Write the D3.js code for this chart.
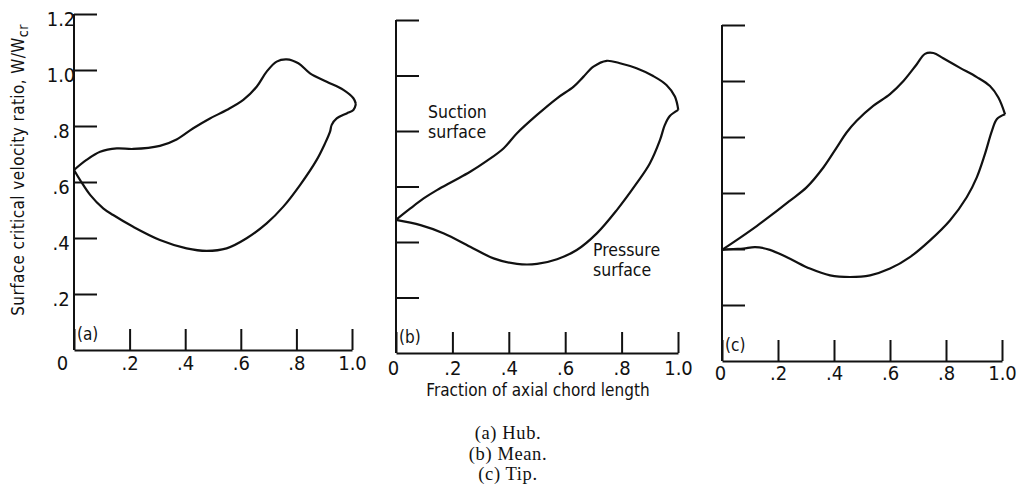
<!DOCTYPE html>
<html>
<head>
<meta charset="utf-8">
<script src="https://cdn.jsdelivr.net/npm/d3@7"></script>
<style>
  html, body { margin: 0; padding: 0; background: #fff; }
  svg { display: block; }
  .lettering { font-family: "DejaVu Sans Condensed", "DejaVu Sans", sans-serif; font-stretch: condensed; fill: #111; }
  .caption { font-family: "Liberation Serif", "DejaVu Serif", serif; fill: #111; }
</style>
</head>
<body>
<svg id="chart" width="1017" height="500"></svg>
<script>
// Axis ticks and labels
const xTickValues = [0, 0.2, 0.4, 0.6, 0.8, 1.0];
const xTickLabels = ["0", ".2", ".4", ".6", ".8", "1.0"];
const yTickValues = [0.2, 0.4, 0.6, 0.8, 1.0, 1.2];
const yTickLabels = [".2", ".4", ".6", ".8", "1.0", "1.2"];

// (a) Hub: surface critical velocity ratio vs fraction of axial chord
const hubSuctionX = [0, 0.045, 0.094, 0.154, 0.213, 0.309, 0.369, 0.429, 0.489, 0.549, 0.609, 0.657, 0.693, 0.729, 0.765, 0.807, 0.849, 0.909, 0.969, 1.005, 1.014];
const hubSuctionY = [0.643, 0.679, 0.708, 0.720, 0.718, 0.729, 0.752, 0.792, 0.827, 0.857, 0.893, 0.940, 0.994, 1.030, 1.038, 1.024, 0.988, 0.958, 0.929, 0.899, 0.879];
const hubPressureX = [0, 0.022, 0.058, 0.105, 0.141, 0.213, 0.309, 0.405, 0.477, 0.549, 0.621, 0.693, 0.753, 0.813, 0.873, 0.903, 0.921, 0.927, 0.945, 0.981, 1.005, 1.014];
const hubPressureY = [0.643, 0.607, 0.554, 0.506, 0.482, 0.440, 0.393, 0.363, 0.354, 0.363, 0.399, 0.452, 0.512, 0.589, 0.679, 0.738, 0.780, 0.804, 0.827, 0.845, 0.857, 0.879];

// (b) Mean
const meanSuctionX = [0, 0.051, 0.098, 0.145, 0.204, 0.263, 0.322, 0.382, 0.429, 0.500, 0.571, 0.630, 0.665, 0.700, 0.747, 0.794, 0.853, 0.912, 0.959, 0.989, 1.001];
const meanSuctionY = [0.480, 0.521, 0.557, 0.587, 0.620, 0.653, 0.692, 0.738, 0.792, 0.858, 0.918, 0.960, 0.996, 1.032, 1.053, 1.044, 1.026, 0.998, 0.966, 0.924, 0.876];
const meanPressureX = [0, 0.087, 0.170, 0.263, 0.346, 0.429, 0.500, 0.571, 0.641, 0.712, 0.783, 0.853, 0.900, 0.936, 0.953, 0.971, 1.001];
const meanPressureY = [0.480, 0.461, 0.431, 0.383, 0.341, 0.321, 0.321, 0.338, 0.371, 0.431, 0.515, 0.611, 0.683, 0.767, 0.821, 0.854, 0.876];

// (c) Tip
const tipSuctionX = [0, 0.064, 0.124, 0.183, 0.243, 0.302, 0.362, 0.410, 0.445, 0.481, 0.540, 0.600, 0.648, 0.695, 0.725, 0.755, 0.790, 0.850, 0.910, 0.957, 0.987, 1.011];
const tipSuctionY = [0.397, 0.440, 0.482, 0.526, 0.573, 0.620, 0.691, 0.763, 0.816, 0.858, 0.911, 0.953, 1.000, 1.059, 1.097, 1.100, 1.081, 1.047, 1.014, 0.982, 0.941, 0.881];
const tipPressureX = [0, 0.040, 0.076, 0.118, 0.171, 0.243, 0.314, 0.386, 0.457, 0.529, 0.600, 0.671, 0.743, 0.814, 0.874, 0.910, 0.939, 0.964, 0.982, 1.011];
const tipPressureY = [0.397, 0.400, 0.401, 0.407, 0.397, 0.365, 0.330, 0.306, 0.300, 0.306, 0.330, 0.371, 0.431, 0.502, 0.585, 0.656, 0.739, 0.822, 0.864, 0.881];

const panelTags = ["(a)", "(b)", "(c)"];
const captionLines = ["(a) Hub.", "(b) Mean.", "(c) Tip."];
const yAxisTitle = "Surface critical velocity ratio, W/W";
const yAxisTitleSub = "cr";
const xAxisTitle = "Fraction of axial chord length";
const suctionNote = ["Suction", "surface"];
const pressureNote = ["Pressure", "surface"];

const svg = d3.select("#chart");

const panels = [
  { tag: panelTags[0], left: 74, right: 352, bottom: 350, top: 14, labelPad: 6, zeroShift: -12, showY: true,
    suction: { x: hubSuctionX, y: hubSuctionY }, pressure: { x: hubPressureX, y: hubPressureY } },
  { tag: panelTags[1], left: 396, right: 678, bottom: 353, top: 20, labelPad: 8, zeroShift: -3, showY: false,
    suction: { x: meanSuctionX, y: meanSuctionY }, pressure: { x: meanPressureX, y: meanPressureY } },
  { tag: panelTags[2], left: 722, right: 1002, bottom: 361, top: 25, labelPad: 5, zeroShift: -2, showY: false,
    suction: { x: tipSuctionX, y: tipSuctionY }, pressure: { x: tipPressureX, y: tipPressureY } }
];

const tickFont = 20;

panels.forEach((p) => {
  const x = d3.scaleLinear().domain([0, 1]).range([p.left, p.right]);
  const y = d3.scaleLinear().domain([0, 1.2]).range([p.bottom, p.top]);
  const g = svg.append("g");

  // x axis: ticks point upward, labels below
  const xAxis = d3.axisBottom(x)
    .tickValues(xTickValues)
    .tickFormat((d, k) => xTickLabels[k])
    .tickSizeInner(-21)
    .tickSizeOuter(0)
    .tickPadding(p.labelPad);
  const gx = g.append("g").attr("transform", `translate(0,${p.bottom})`).call(xAxis);
  gx.attr("font-family", null).attr("font-size", null);
  gx.select(".domain").attr("stroke", "#111").attr("stroke-width", 2);
  gx.selectAll(".tick line").attr("stroke", "#111").attr("stroke-width", 2);
  gx.selectAll(".tick text")
    .attr("class", "lettering")
    .attr("font-size", tickFont)
    .attr("x", (d) => d === 0 ? p.zeroShift : 0);

  // y axis: ticks point to the right into the plot
  const yAxis = d3.axisLeft(y)
    .tickValues(yTickValues)
    .tickFormat((d, k) => p.showY ? yTickLabels[k] : "")
    .tickSizeInner(-23)
    .tickSizeOuter(0)
    .tickPadding(13);
  const gy = g.append("g").attr("transform", `translate(${p.left},0)`).call(yAxis);
  gy.attr("font-family", null).attr("font-size", null);
  gy.select(".domain").attr("stroke", "#111").attr("stroke-width", 2)
    .attr("d", `M0,${p.bottom}V${p.top}`);
  gy.selectAll(".tick line").attr("stroke", "#111").attr("stroke-width", 2);
  gy.selectAll(".tick text")
    .attr("class", "lettering")
    .attr("font-size", tickFont)
    .attr("text-anchor", "middle")
    .attr("dy", "0.55em");

  // Panel tag in the lower left corner
  g.append("text")
    .attr("class", "lettering")
    .attr("x", p.left + 3)
    .attr("y", p.bottom - 10)
    .attr("font-size", 17)
    .text(p.tag);

  // Suction and pressure surface distributions
  const line = d3.line()
    .x((d) => x(d[0]))
    .y((d) => y(d[1]))
    .curve(d3.curveCatmullRom.alpha(0.5));
  [p.suction, p.pressure].forEach((s) => {
    const pts = s.x.map((v, k) => [v, s.y[k]]);
    g.append("path")
      .datum(pts)
      .attr("d", line)
      .attr("fill", "none")
      .attr("stroke", "#111")
      .attr("stroke-width", 2.2)
      .attr("stroke-linejoin", "round");
  });
});

// Y axis title on panel (a)
const yTitle = svg.append("text")
  .attr("class", "lettering")
  .attr("font-size", 17)
  .attr("letter-spacing", 0.4)
  .attr("text-anchor", "middle")
  .attr("transform", "translate(24,170) rotate(-90)");
yTitle.append("tspan").text(yAxisTitle);
yTitle.append("tspan").attr("font-size", 14).attr("dy", "0.3em").text(yAxisTitleSub);

// X axis title under panel (b)
svg.append("text")
  .attr("class", "lettering")
  .attr("font-size", 17)
  .attr("text-anchor", "middle")
  .attr("x", 538)
  .attr("y", 396)
  .text(xAxisTitle);

// Surface notes in panel (b)
svg.append("text").attr("class", "lettering").attr("font-size", 17.5)
  .selectAll("tspan").data(suctionNote).join("tspan")
  .attr("x", 428).attr("y", (d, k) => 118 + k * 20).text((d) => d);
svg.append("text").attr("class", "lettering").attr("font-size", 17.5)
  .selectAll("tspan").data(pressureNote).join("tspan")
  .attr("x", 593).attr("y", (d, k) => 256 + k * 20).text((d) => d);

// Figure captions
svg.append("g").selectAll("text").data(captionLines).join("text")
  .attr("class", "caption")
  .attr("font-size", 18.5)
  .attr("letter-spacing", 0.6)
  .attr("text-anchor", "middle")
  .attr("x", 508)
  .attr("y", (d, k) => 439 + k * 20.5)
  .text((d) => d);
</script>
</body>
</html>
